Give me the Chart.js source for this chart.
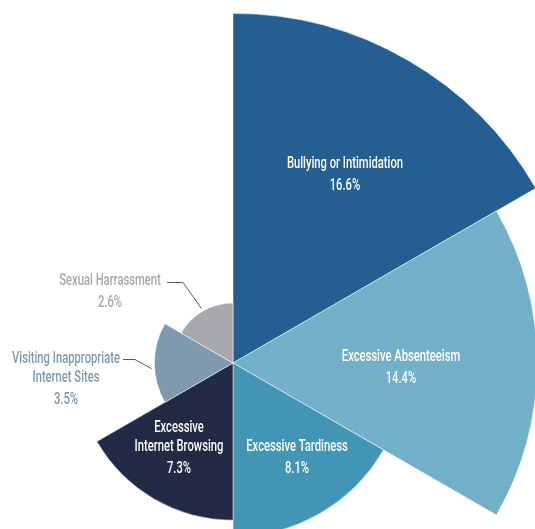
<!DOCTYPE html>
<html>
<head>
<meta charset="utf-8">
<title>Policy violations</title>
<script src="https://cdn.jsdelivr.net/npm/chart.js@4.4.1/dist/chart.umd.min.js"></script>
<style>
    html, body { margin: 0; padding: 0; background: #ffffff; }
    #wrap { position: relative; width: 535px; height: 529px; overflow: hidden; }
    #violationsChart { position: absolute; left: -127px; top: 3px; }
</style>
</head>
<body>
<div id="wrap">
    <canvas id="violationsChart" width="720" height="720"></canvas>
</div>
<script>
// slice names (one entry per text line) and their shares, clockwise from 12 o'clock
var categories = [
    ['Bullying or Intimidation'],
    ['Excessive Absenteeism'],
    ['Excessive Tardiness'],
    ['Excessive', 'Internet Browsing'],
    ['Visiting Inappropriate', 'Internet Sites'],
    ['Sexual Harrassment']
];
var shares = [16.6, 14.4, 8.1, 7.3, 3.5, 2.6];
var sliceColors = ['#255f91', '#72b0c9', '#4395b5', '#222a45', '#7f9aae', '#a8a9ad'];
var labelColors = ['#ffffff', '#ffffff', '#ffffff', '#ffffff', '#7f9aae', '#a8a9ad'];

// radial axis range
var scaleMin = -0.3;
var scaleMax = 17.1;

// where each label block sits, offsets from the chart centre (first line centre)
var labelSpots = [
    { dx: 112, dy: -199 },
    { dx: 168, dy: -6 },
    { dx: 64, dy: 84 },
    { dx: -54, dy: 65 },
    { dx: -167, dy: -4, leader: { angle: 266, elbowDx: -98, elbowDy: -4, endDx: -110 } },
    { dx: -123, dy: -82, leader: { angle: 330, elbowDx: -50, elbowDy: -81, endDx: -66 } }
];

var FONT = '500 17px "Roboto", "DejaVu Sans Condensed", sans-serif';
var SQUEEZE = 0.66;

function drawBlock(ctx, lines, x, y, color) {
    ctx.save();
    ctx.font = FONT;
    ctx.fillStyle = color;
    ctx.textAlign = 'center';
    ctx.textBaseline = 'middle';
    var yy = y;
    lines.forEach(function (line, k) {
        ctx.save();
        ctx.translate(x, yy);
        ctx.scale(SQUEEZE, 1);
        ctx.fillText(line, 0, 0);
        ctx.restore();
        // the percentage line sits a little further down
        yy += (k === lines.length - 2) ? 22 : 19;
    });
    ctx.restore();
}

var sliceLabels = {
    id: 'sliceLabels',
    afterDatasetsDraw: function (chart) {
        var ctx = chart.ctx;
        var arcs = chart.getDatasetMeta(0).data;
        arcs.forEach(function (arc, i) {
            var spot = labelSpots[i];
            var lines = categories[i].concat([shares[i].toFixed(1) + '%']);
            var cx = arc.x, cy = arc.y;

            if (spot.leader) {
                var ld = spot.leader;
                var a = (ld.angle - 90) * Math.PI / 180;
                var r = arc.outerRadius + 3;
                ctx.save();
                ctx.strokeStyle = '#58595b';
                ctx.lineWidth = 1;
                ctx.beginPath();
                ctx.moveTo(cx + ld.endDx, cy + ld.elbowDy + 0.5);
                ctx.lineTo(cx + ld.elbowDx, cy + ld.elbowDy + 0.5);
                ctx.lineTo(cx + Math.cos(a) * r, cy + Math.sin(a) * r);
                ctx.stroke();
                ctx.restore();
            }

            drawBlock(ctx, lines, cx + spot.dx, cy + spot.dy, labelColors[i]);
        });
    }
};

var ctx = document.getElementById('violationsChart');

new Chart(ctx, {
    type: 'polarArea',
    data: {
        labels: categories.map(function (c) { return c.join(' '); }),
        datasets: [{
            data: shares,
            backgroundColor: sliceColors,
            borderColor: '#ffffff',
            borderWidth: 0.5
        }]
    },
    options: {
        responsive: false,
        animation: false,
        layout: { padding: 0 },
        plugins: {
            legend: { display: false },
            tooltip: { enabled: false }
        },
        scales: {
            r: {
                display: false,
                min: scaleMin,
                max: scaleMax,
                startAngle: 0
            }
        }
    },
    plugins: [sliceLabels]
});
</script>
</body>
</html>
